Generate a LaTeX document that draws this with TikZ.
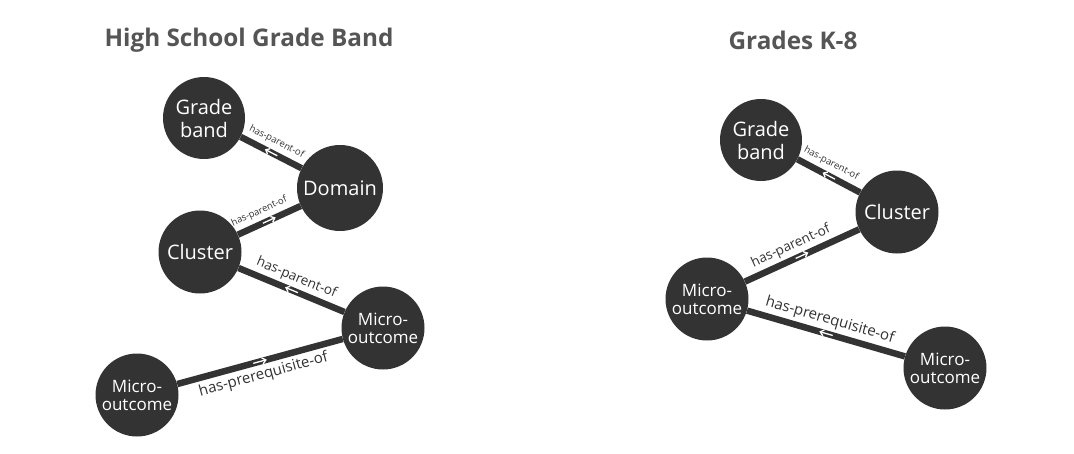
\documentclass[tikz,border=0pt]{standalone}
\usepackage{fontspec}
\setmainfont{Open Sans}
\usetikzlibrary{arrows.meta, decorations.markings}
\definecolor{ink}{HTML}{333333}
\definecolor{headgray}{HTML}{555555}

\begin{document}
\begin{tikzpicture}[x=1pt, y=-1pt,
    dot/.style={circle, fill=ink, text=white, minimum size=83pt, inner sep=0pt,
      align=center, font=\fontsize{20}{23}\selectfont},
    micro/.style={dot, font=\fontsize{17}{18}\selectfont},
    link/.style={draw=ink, line width=6.5pt},
    tofwd/.style={postaction={decorate, decoration={markings,
      mark=at position 0.5 with {\draw[white, line width=1.3pt, -{Straight Barb[length=3.5pt, width=6pt]}] (-7pt,0) -- (7pt,0);}}}},
    toback/.style={postaction={decorate, decoration={markings,
      mark=at position 0.5 with {\draw[white, line width=1.3pt, {Straight Barb[length=3.5pt, width=6pt]}-] (-7pt,0) -- (7pt,0);}}}},
    rel/.style={sloped, text=ink, inner sep=3pt, font=\fontsize{13.5}{14}\selectfont},
    longrel/.style={rel, font=\fontsize{15}{15}\selectfont},
    tinyrel/.style={rel, inner sep=4pt, font=\fontsize{9.5}{10}\selectfont},
    head/.style={text=headgray, font=\bfseries\fontsize{24.3}{25}\selectfont}]
  \useasboundingbox (0,0) rectangle (1074,453);

  % high school side
  \node[head] (hsHead) at (249,40) {High School Grade Band};
  \node[dot, minimum size=82pt] (hsBand) at (204,118) {Grade\\band};
  \node[dot, minimum size=86pt] (hsDomain) at (340,188) {Domain};
  \node[dot] (hsCluster) at (200,252) {Cluster};
  \node[micro] (hsMicroA) at (383,328) {Micro-\\outcome};
  \node[micro] (hsMicroB) at (137,395) {Micro-\\outcome};

  \draw[link, toback] (hsBand) -- (hsDomain)
    node[tinyrel, above, pos=0.5] {has-parent-of};
  \draw[link, tofwd] (hsCluster) -- (hsDomain)
    node[tinyrel, above, pos=0.42] {has-parent-of};
  \draw[link, toback] (hsCluster) -- (hsMicroA)
    node[rel, above, pos=0.5] {has-parent-of};
  \draw[link, tofwd] (hsMicroB) -- (hsMicroA)
    node[longrel, below, pos=0.5] {has-prerequisite-of};

  % K-8 side
  \node[head] (kHead) at (793,40) {Grades K-8};
  \node[dot, minimum size=82pt] (kBand) at (761,140) {Grade\\band};
  \node[dot] (kCluster) at (897,212) {Cluster};
  \node[micro] (kMicroA) at (707,299) {Micro-\\outcome};
  \node[micro] (kMicroB) at (945,368) {Micro-\\outcome};

  \draw[link, toback] (kBand) -- (kCluster)
    node[tinyrel, above, pos=0.45] {has-parent-of};
  \draw[link, tofwd] (kMicroA) -- (kCluster)
    node[rel, above, pos=0.45] {has-parent-of};
  \draw[link, toback] (kMicroA) -- (kMicroB)
    node[longrel, above, pos=0.5] {has-prerequisite-of};
\end{tikzpicture}
\end{document}
